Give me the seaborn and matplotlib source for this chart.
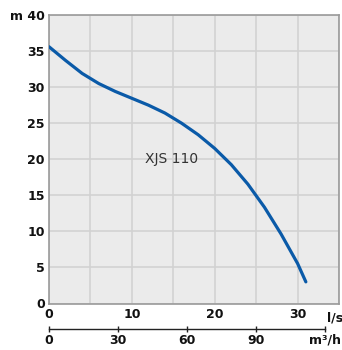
import matplotlib
matplotlib.use("Agg")
import matplotlib.pyplot as plt
import seaborn as sns
import pandas as pd

# Data
flow_ls = [0, 2, 4, 6, 8, 10, 12, 14, 16, 18, 20, 22, 24, 26, 28, 30, 31]
head_m = [35.6, 33.7, 31.9, 30.5, 29.4, 28.45, 27.5, 26.4, 25.0, 23.4, 21.5, 19.25,
          16.55, 13.35, 9.65, 5.55, 3.0]
x_ticks = [0, 10, 20, 30]
x_ticklabels = ["0", "10", "20", "30"]
x_unit = "l/s"
y_ticks = [0, 5, 10, 15, 20, 25, 30, 35, 40]
y_ticklabels = ["0", "5", "10", "15", "20", "25", "30", "35", "m 40"]
m3h_ticks = [0, 30, 60, 90, 120]
m3h_ticklabels = ["0", "30", "60", "90", "m³/h"]
label = "XJS 110"

sns.set_style("white", {"axes.facecolor": "#ebebeb"})
plt.rcParams['font.family'] = ['DejaVu Sans']

fig = plt.figure(figsize=(3.42, 3.5), dpi=100)
ax = fig.add_axes([49/342, 46.5/350, 290/342, 288.5/350])

df = pd.DataFrame({"q": flow_ls, "h": head_m})
sns.lineplot(data=df, x="q", y="h", ax=ax, color="#0a5aa8", linewidth=2.3, zorder=3,
             solid_capstyle="round", solid_joinstyle="round")

ax.set_xlim(0, 35)
ax.set_ylim(0, 40)
ax.set_xticks(x_ticks)
ax.set_xticklabels(x_ticklabels, fontsize=9, fontweight="bold", color="#111111")
ax.set_xticks([5, 15, 25, 35], minor=True)
ax.set_yticks(y_ticks)
ax.set_yticklabels(y_ticklabels, fontsize=9, fontweight="bold", color="#111111")
ax.grid(True, which="both", color="#d2d2d2", linewidth=1.2)
ax.tick_params(axis="both", which="both", length=0, pad=3)
ax.set_xlabel("")
ax.set_ylabel("")
for s in ax.spines.values():
    s.set_color("#9a9a9a")
    s.set_linewidth(1.2)

ax.text(14.8, 20, label, fontsize=10, color="#333333", ha="center", va="center", zorder=4)
fig.text(327/342, 1 - 318/350, x_unit, fontsize=9, fontweight="bold", color="#111111",
         ha="left", va="center")

# Secondary flow scale in m3/h
ax2 = fig.add_axes([49/342, 21/350, 290/342, 0.001])
ax2.set_xlim(0, 35 * 3.6)
ax2.set_ylim(0, 1)
ax2.set_facecolor("none")
for k in ["top", "left", "right"]:
    ax2.spines[k].set_visible(False)
ax2.spines["bottom"].set_bounds(0, 120)
ax2.spines["bottom"].set_color("#222222")
ax2.spines["bottom"].set_linewidth(1.0)
ax2.set_yticks([])
ax2.set_xticks(m3h_ticks)
ax2.set_xticklabels(m3h_ticklabels, fontsize=9, fontweight="bold", color="#111111")
ax2.tick_params(axis="x", bottom=True, length=5, width=1.0, color="#222222", pad=1,
                direction="inout")

fig.savefig("out.png", dpi=100)
